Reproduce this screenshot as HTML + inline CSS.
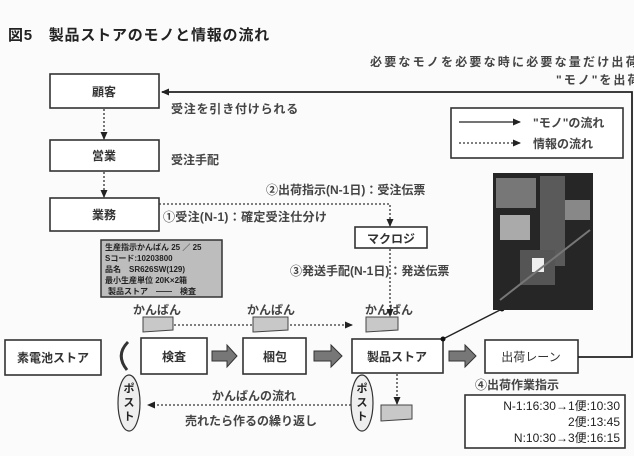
<!DOCTYPE html>
<html><head><meta charset="utf-8"><style>
html,body{margin:0;padding:0;background:#fbfbfb;overflow:hidden;}
svg{display:block;font-family:"Liberation Sans","Noto Sans CJK JP",sans-serif;}
</style></head><body>
<svg width="634" height="456" viewBox="0 0 634 456" xmlns="http://www.w3.org/2000/svg">
<defs>
<marker id="ah" markerWidth="8" markerHeight="8" refX="7" refY="4" orient="auto" markerUnits="userSpaceOnUse"><path d="M0,0.5 L8,4 L0,7.5 z" fill="#222"/></marker>
</defs>
<text x="8" y="40" font-size="15" font-weight="bold" fill="#222" letter-spacing="0.8">図5　製品ストアのモノと情報の流れ</text>
<text x="370" y="66" font-size="12" font-weight="bold" fill="#444" letter-spacing="2.2">必要なモノを必要な時に必要な量だけ出荷</text>
<text x="556" y="84" font-size="12" font-weight="bold" fill="#444" letter-spacing="2">"モノ"を出荷</text>

<g fill="#fff" stroke="#333" stroke-width="1.6">
<rect x="50" y="74" width="109" height="34"/>
<rect x="50" y="140" width="109" height="31"/>
<rect x="50" y="198" width="109" height="33"/>
<rect x="451" y="108" width="172" height="50"/>
<rect x="355" y="227" width="72" height="21"/>
<rect x="5" y="340" width="96" height="35"/>
<rect x="141" y="338" width="66" height="36"/>
<rect x="243" y="338" width="63" height="36"/>
<rect x="352" y="339" width="91" height="34"/>
<rect x="485" y="340" width="93" height="33"/>
<rect x="465" y="395" width="160" height="53"/>
</g>
<g font-size="12" font-weight="bold" fill="#333" text-anchor="middle">
<text x="104" y="96">顧客</text>
<text x="104" y="160">営業</text>
<text x="104" y="219">業務</text>
<text x="391" y="243">マクロジ</text>
<text x="53" y="362">素電池ストア</text>
<text x="174" y="361">検査</text>
<text x="275" y="361">梱包</text>
<text x="397" y="361">製品ストア</text>
<text x="531" y="361" font-weight="normal">出荷レーン</text>
</g>
<g font-size="12" font-weight="bold" fill="#444">
<text x="171" y="113" letter-spacing="0.8">受注を引き付けられる</text>
<text x="171" y="164">受注手配</text>
<text x="266" y="194">②出荷指示(N-1日)：受注伝票</text>
<text x="163" y="221" letter-spacing="0.3">①受注(N-1)：確定受注仕分け</text>
<text x="290" y="275">③発送手配(N-1日)：発送伝票</text>
<text x="475" y="389">④出荷作業指示</text>
<text x="212" y="400">かんばんの流れ</text>
<text x="185" y="425">売れたら作るの繰り返し</text>
<text x="133" y="314">かんばん</text>
<text x="247" y="314">かんばん</text>
<text x="365" y="314">かんばん</text>
<text x="533" y="127">"モノ"の流れ</text>
<text x="533" y="148">情報の流れ</text>
</g>
<g font-size="12" fill="#222" text-anchor="end">
<text x="620" y="410">N-1:16:30→1便:10:30</text>
<text x="620" y="426">2便:13:45</text>
<text x="620" y="442">N:10:30→3便:16:15</text>
</g>

<g stroke="#222" stroke-width="1.8" fill="none">
<path d="M578,357 H632 V92 H162" marker-end="url(#ah)"/>
<line x1="459" y1="122" x2="520" y2="122" stroke-width="1.2" marker-end="url(#ah)"/>
<line x1="443" y1="339" x2="502" y2="309" stroke-width="1.4"/>
</g>
<circle cx="443" cy="339" r="2.5" fill="#111"/><circle cx="502" cy="309" r="2.5" fill="#111"/>
<g stroke="#333" stroke-width="1.3" fill="none" stroke-dasharray="2,2">
<line x1="104" y1="109" x2="104" y2="139" marker-end="url(#ah)"/>
<line x1="104" y1="172" x2="104" y2="197" marker-end="url(#ah)"/>
<path d="M159,204 H390 V226" marker-end="url(#ah)"/>
<line x1="390" y1="249" x2="390" y2="316" marker-end="url(#ah)"/>
<line x1="459" y1="143" x2="520" y2="143" marker-end="url(#ah)"/>
<line x1="150" y1="325" x2="352" y2="325" marker-end="url(#ah)"/>
<line x1="397" y1="374" x2="397" y2="404" marker-end="url(#ah)"/>
<line x1="351" y1="405" x2="148" y2="405" marker-end="url(#ah)"/>
</g>
<g fill="#c8c8c8" stroke="#444" stroke-width="1">
<path d="M143,317 H173 V330 L143,332 z"/>
<path d="M253,317 H288 V330 L253,332 z"/>
<path d="M366,317 H398 V330 L366,332 z"/>
<path d="M381,405 H412 V419 L381,421 z"/>
</g>
<g fill="#777" stroke="#333" stroke-width="1">
<path d="M212,351 H227 V345 L237,356 L227,367 V361 H212 z"/>
<path d="M314,351 H331 V345 L342,356 L331,367 V361 H314 z"/>
<path d="M449,351 H465 V345 L476,356 L465,367 V361 H449 z"/>
</g>
<path d="M128,342 Q115,355 127,370" stroke="#333" stroke-width="3" fill="none"/>
<g fill="#eee" stroke="#333" stroke-width="1.2">
<ellipse cx="129" cy="403" rx="11" ry="28"/>
<ellipse cx="362" cy="403" rx="11" ry="28"/>
</g>
<g font-size="11" font-weight="bold" fill="#222" text-anchor="middle">
<text x="129" y="392">ポ</text><text x="129" y="406">ス</text><text x="129" y="420">ト</text>
<text x="362" y="392">ポ</text><text x="362" y="406">ス</text><text x="362" y="420">ト</text>
</g>
<rect x="101" y="240" width="121" height="57" fill="#bdbdbd" stroke="#333" stroke-width="1.5"/>
<g font-size="8" font-weight="bold" fill="#222">
<text x="105" y="250">生産指示かんばん 25 ／ 25</text>
<text x="105" y="261">Sコード:10203800</text>
<text x="105" y="272">品名　SR626SW(129)</text>
<text x="105" y="283">最小生産単位 20K×2箱</text>
<text x="108" y="294">製品ストア　――　検査</text>
</g>
<rect x="493" y="173" width="100" height="137" fill="#262626"/>
<rect x="496" y="178" width="40" height="30" fill="#777"/>
<rect x="540" y="176" width="25" height="90" fill="#5a5a5a"/>
<rect x="500" y="215" width="30" height="25" fill="#aaa"/>
<rect x="565" y="200" width="25" height="20" fill="#888"/>
<rect x="520" y="250" width="35" height="35" fill="#555"/>
<rect x="532" y="258" width="12" height="14" fill="#eee"/>
<line x1="500" y1="300" x2="590" y2="230" stroke="#777" stroke-width="2"/>
</svg>
</body></html>
